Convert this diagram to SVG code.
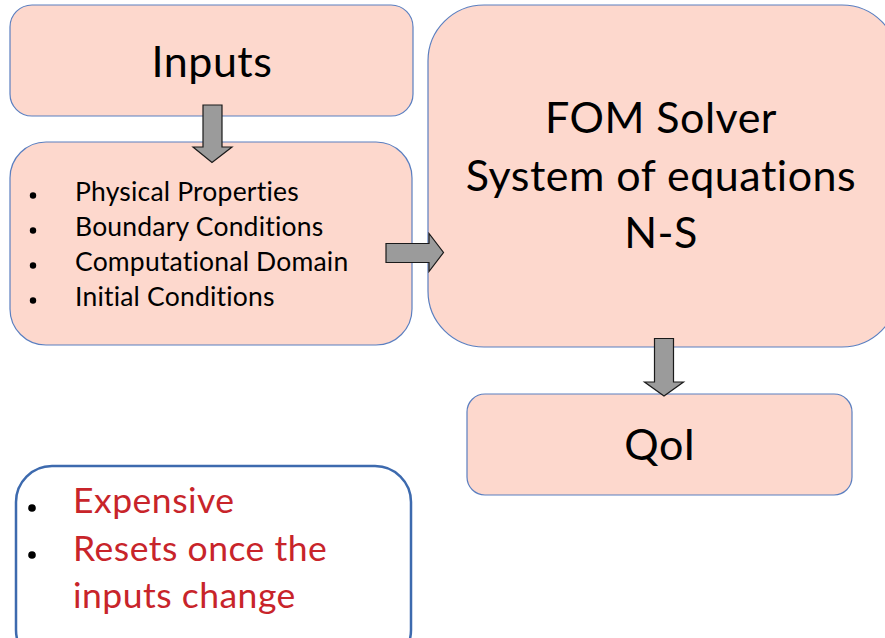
<svg xmlns="http://www.w3.org/2000/svg" width="885" height="638" viewBox="0 0 885 638">
  <defs>
    <style>
      .box { fill: #FDD8CD; stroke: #5B7FC0; stroke-width: 1.2; }
      .note { fill: #FFFFFF; stroke: #3D6AAE; stroke-width: 2.5; }
      .arrow { fill: #9B9B9B; stroke: #1A1A1A; stroke-width: 1.2; stroke-linejoin: miter; }
      text { font-family: Lato, "Open Sans", sans-serif; fill: #000; }
      .big { font-size: 43px; text-anchor: middle; letter-spacing: 0.5px; }
      .item { font-size: 26.5px; letter-spacing: 0.2px; }
      .warn { font-size: 35.5px; fill: #C8242A; letter-spacing: 0.5px; }
      .dot { fill: #000; }
    </style>
  </defs>

  <g id="inputs">
    <rect class="box" x="10" y="5" width="403" height="111" rx="22" ry="22"/>
    <text class="big" x="212" y="77">Inputs</text>
  </g>

  <g id="input-list">
    <rect class="box" x="10" y="142" width="402" height="203" rx="36" ry="36"/>
    <circle class="dot" cx="33" cy="195.5" r="3.2"/>
    <circle class="dot" cx="33" cy="230.5" r="3.2"/>
    <circle class="dot" cx="33" cy="265.5" r="3.2"/>
    <circle class="dot" cx="33" cy="300.5" r="3.2"/>
    <text class="item" x="75" y="201">Physical Properties</text>
    <text class="item" x="75" y="236">Boundary Conditions</text>
    <text class="item" x="75" y="271">Computational Domain</text>
    <text class="item" x="75" y="306">Initial Conditions</text>
  </g>

  <g id="fom-solver">
    <rect class="box" x="428" y="5" width="470" height="342" rx="56" ry="56"/>
    <text class="big" x="661" y="133">FOM Solver</text>
    <text class="big" x="661" y="191">System of equations</text>
    <text class="big" x="661" y="248">N-S</text>
  </g>

  <g id="qoi">
    <rect class="box" x="467" y="394" width="385" height="101" rx="18" ry="18"/>
    <text class="big" x="660" y="460">QoI</text>
  </g>

  <g id="drawbacks">
    <rect class="note" x="16" y="466" width="395" height="200" rx="36" ry="36"/>
    <circle class="dot" cx="32" cy="508" r="3.8"/>
    <circle class="dot" cx="32" cy="555" r="3.8"/>
    <text class="warn" x="73" y="513">Expensive</text>
    <text class="warn" x="73" y="561">Resets once the</text>
    <text class="warn" x="73" y="608">inputs change</text>
  </g>

  <g id="connectors">
    <path class="arrow" d="M203 105 H222 V147 H232 L212 162.5 L193 147 H203 Z"/>
    <path class="arrow" d="M386 243.5 H429 V233.5 L443.5 252.5 L429 271.5 V262.5 H386 Z"/>
    <path class="arrow" d="M654.5 338.5 H673.5 V382 H683.5 L664 396 L644.5 382 H654.5 Z"/>
  </g>
</svg>
